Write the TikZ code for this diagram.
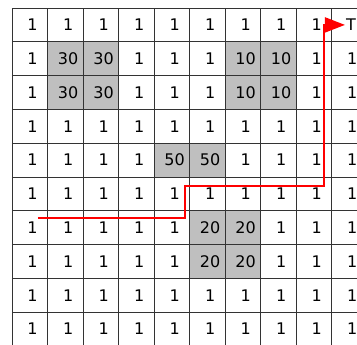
\documentclass[tikz,border=0pt]{standalone}
\usepackage{fontspec}
\setmainfont{DejaVu Sans}
\usetikzlibrary{arrows.meta}

\begin{document}
\begin{tikzpicture}[x=35.5pt, y=-33.8pt, >={Triangle[length=20pt, width=15pt]},
    font=\fontsize{16}{16}\selectfont,
    cost/.style={inner sep=1pt},
    heavy/.style={fill=black!25},
    route/.style={draw=red, line width=1.8pt}]
      \useasboundingbox (-0.338,-0.237) rectangle (9.718,9.941);

      % shaded cells with high cost
      \foreach \r/\c in {1/1, 1/2, 2/1, 2/2, 1/6, 1/7, 2/6, 2/7, 4/4, 4/5, 6/5, 6/6, 7/5, 7/6}
        \fill[heavy] (\c,\r) rectangle ++(1,1);
      \foreach \i in {0,...,10} {
        \draw[black!80, line width=0.9pt] (\i,0) -- (\i,10);
        \draw[black!80, line width=0.9pt] (0,\i) -- (10,\i);
      }

      % cost values, row by row
      \foreach \vals [count=\r from 0] in {
          {1,1,1,1,1,1,1,1,1},
          {1,30,30,1,1,1,10,10,1,1},
          {1,30,30,1,1,1,10,10,1,1},
          {1,1,1,1,1,1,1,1,1,1},
          {1,1,1,1,50,50,1,1,1,1},
          {1,1,1,1,1,1,1,1,1,1},
          {1,1,1,1,1,20,20,1,1,1},
          {1,1,1,1,1,20,20,1,1,1},
          {1,1,1,1,1,1,1,1,1,1},
          {1,1,1,1,1,1,1,1,1,1}}
        \foreach \v [count=\c from 0] in \vals
          \node[cost] (n-\r-\c) at (\c+0.58,\r+0.5) {\v};

      \node[cost] (T) at (9.55,0.5) {T};
      \coordinate (start) at (0.73,6.21);
      \draw[route, ->] (start) -- (4.87,6.21) |- (8.79,5.27) |- (T);
    \end{tikzpicture}
\end{document}
